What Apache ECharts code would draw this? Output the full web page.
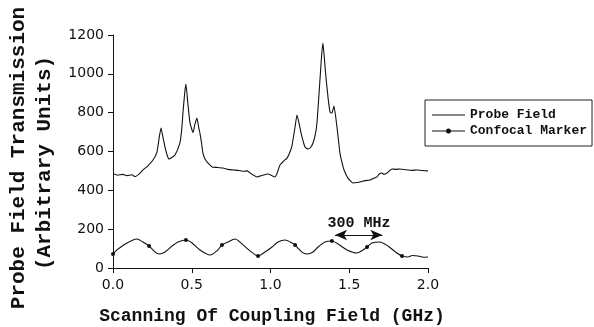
<!DOCTYPE html>
<html>
<head>
<meta charset="utf-8">
<script src="https://cdn.jsdelivr.net/npm/echarts@6/dist/echarts.min.js"></script>
<style>
  html, body { margin: 0; padding: 0; background: #fff; }
  #chart { width: 594px; height: 327px; }
</style>
</head>
<body>
<div id="chart"></div>
<script>
// probe field trace (GHz, arb. units)
const probeX = [0.00, 0.03, 0.06, 0.09, 0.12, 0.14, 0.17, 0.19, 0.22, 0.254, 0.279, 0.295, 0.305, 0.318, 0.33, 0.345, 0.356, 0.375, 0.394, 0.425,
  0.437, 0.444, 0.455, 0.463, 0.475, 0.489, 0.508, 0.52, 0.533, 0.545, 0.552, 0.563, 0.571, 0.585, 0.597, 0.629, 0.66, 0.698, 0.73, 0.762,
  0.80, 0.83, 0.851, 0.88, 0.914, 0.95, 0.984, 1.01, 1.029, 1.045, 1.06, 1.085, 1.105, 1.125, 1.137, 1.156, 1.168, 1.18, 1.194, 1.219,
  1.238, 1.255, 1.27, 1.285, 1.295, 1.305, 1.314, 1.325, 1.333, 1.342, 1.352, 1.365, 1.378, 1.39, 1.403, 1.422, 1.441, 1.455, 1.467, 1.492,
  1.524, 1.55, 1.568, 1.60, 1.632, 1.655, 1.676, 1.69, 1.708, 1.72, 1.74, 1.771, 1.80, 1.822, 1.86, 1.90, 1.93, 1.96, 2.00];
const probeY = [485, 478, 482, 476, 480, 470, 487, 505, 525, 556, 597, 680, 721, 670, 623, 578, 561, 570, 582, 644,
  720, 798, 900, 948, 850, 747, 698, 740, 772, 720, 695, 640, 592, 560, 546, 520, 518, 515, 508, 505,
  502, 498, 500, 484, 469, 478, 484, 475, 469, 495, 530, 552, 566, 600, 633, 726, 788, 750, 695, 623,
  613, 622, 644, 690, 747, 860, 968, 1100, 1159, 1080, 984, 880, 803, 798, 834, 726, 592, 540, 505, 463,
  438, 440, 443, 450, 453, 462, 469, 484, 489, 482, 489, 510, 508, 510, 506, 503, 505, 502, 500];

// confocal marker trace
const confX = [0.0, 0.025, 0.089, 0.152, 0.19, 0.229, 0.267, 0.292, 0.33, 0.375, 0.413, 0.463, 0.502, 0.552, 0.616, 0.66, 0.692, 0.73,
  0.775, 0.819, 0.87, 0.921, 0.965, 1.01, 1.048, 1.092, 1.137, 1.156, 1.2, 1.232, 1.27, 1.302, 1.346, 1.39, 1.429, 1.486, 1.549,
  1.587, 1.613, 1.644, 1.695, 1.746, 1.803, 1.835, 1.873, 1.9, 1.937, 1.97, 2.0];
const confY = [72, 93, 129, 149, 134, 113, 82, 72, 82, 113, 134, 144, 129, 93, 67, 88, 118, 134,
  149, 124, 88, 62, 82, 108, 134, 144, 129, 118, 82, 72, 82, 108, 134, 139, 124, 93, 77,
  93, 108, 129, 134, 113, 77, 62, 57, 64, 62, 55, 57];
const markX = [0.0, 0.229, 0.463, 0.692, 0.921, 1.156, 1.39, 1.613, 1.835];

const xTicks = [0, 0.5, 1.0, 1.5, 2.0];
const yTicks = [0, 200, 400, 600, 800, 1000, 1200];

const chart = echarts.init(document.getElementById('chart'));

const probeData = probeX.map((x, i) => [x, probeY[i]]);
const confData = confX.map((x, i) => {
  const item = { value: [x, confY[i]] };
  if (markX.indexOf(x) < 0) item.symbol = 'none';
  return item;
});

const titleFont = 'Liberation Mono';

// legend icons: plain line, and line with a small dot in the middle
// (tiny corner subpaths keep the 33x14 box so the path is not stretched)
const iconLine = 'path://M0,0 H0.01 V0.01 Z M0,6.5 H33 V7.5 H0 Z M32.99,14 H33 V13.99 Z';
const iconDot = 'path://M0,0 H0.01 V0.01 Z M0,6.5 H14.5 V7.5 H0 Z M18.5,6.5 H33 V7.5 H18.5 Z ' +
  'M14,7 A2.5,2.5 0 1,1 19,7 A2.5,2.5 0 1,1 14,7 Z M32.99,14 H33 V13.99 Z';

const option = {
  animation: false,
  grid: { left: 113, right: 166, top: 35, bottom: 59 },
  legend: {
    left: 425,
    top: 100,
    orient: 'vertical',
    borderColor: '#222',
    borderWidth: 1,
    padding: [8, 5, 8, 7],
    itemWidth: 33,
    itemHeight: 14,
    itemGap: 2,
    textStyle: { fontFamily: titleFont, fontWeight: 'bold', fontSize: 13, color: '#111' },
    data: [
      { name: 'Probe Field', icon: iconLine },
      { name: 'Confocal Marker', icon: iconDot }
    ]
  },
  xAxis: {
    type: 'value',
    min: xTicks[0],
    max: xTicks[xTicks.length - 1],
    interval: 0.5,
    splitLine: { show: false },
    axisLine: { onZero: false, lineStyle: { color: '#111', width: 1 } },
    axisTick: { length: 5, lineStyle: { color: '#111' } },
    axisLabel: {
      color: '#111', fontFamily: 'DejaVu Sans', fontSize: 14, margin: 10,
      formatter: v => v.toFixed(1)
    }
  },
  yAxis: {
    type: 'value',
    min: yTicks[0],
    max: yTicks[yTicks.length - 1],
    interval: 200,
    splitLine: { show: false },
    axisLine: { show: true, lineStyle: { color: '#111', width: 1 } },
    axisTick: { show: true, length: 5, lineStyle: { color: '#111' } },
    axisLabel: { color: '#111', fontFamily: 'DejaVu Sans', fontSize: 14, margin: 9, formatter: v => String(v) }
  },
  series: [
    {
      name: 'Probe Field',
      type: 'line',
      data: probeData,
      symbol: 'none',
      smooth: 0.15,
      lineStyle: { color: '#111', width: 1.1 },
      itemStyle: { color: '#111' }
    },
    {
      name: 'Confocal Marker',
      type: 'line',
      data: confData,
      symbol: 'circle',
      symbolSize: 4,
      showSymbol: true,
      smooth: 0.25,
      lineStyle: { color: '#111', width: 1.1 },
      itemStyle: { color: '#111' },
      markLine: {
        silent: true,
        symbol: ['arrow', 'arrow'],
        symbolSize: [8, 12],
        label: { show: false },
        lineStyle: { color: '#111', width: 1, type: 'solid' },
        data: [[{ coord: [1.41, 170] }, { coord: [1.71, 170] }]]
      }
    }
  ],
  graphic: [
    {
      type: 'text', x: 19, y: 158, rotation: Math.PI / 2,
      style: { text: 'Probe Field Transmission', fontFamily: titleFont, fontWeight: 'bold', fontSize: 21,
        fill: '#111', align: 'center', verticalAlign: 'middle' }
    },
    {
      type: 'text', x: 45, y: 163, rotation: Math.PI / 2,
      style: { text: '(Arbitrary Units)', fontFamily: titleFont, fontWeight: 'bold', fontSize: 21,
        fill: '#111', align: 'center', verticalAlign: 'middle' }
    },
    {
      type: 'text', x: 272, y: 316,
      style: { text: 'Scanning Of Coupling Field (GHz)', fontFamily: titleFont, fontWeight: 'bold', fontSize: 18,
        fill: '#111', align: 'center', verticalAlign: 'middle' }
    },
    {
      type: 'text', x: 359, y: 223,
      style: { text: '300 MHz', fontFamily: titleFont, fontWeight: 'bold', fontSize: 15,
        fill: '#111', align: 'center', verticalAlign: 'middle' }
    }
  ]
};

chart.setOption(option);
</script>
</body>
</html>
